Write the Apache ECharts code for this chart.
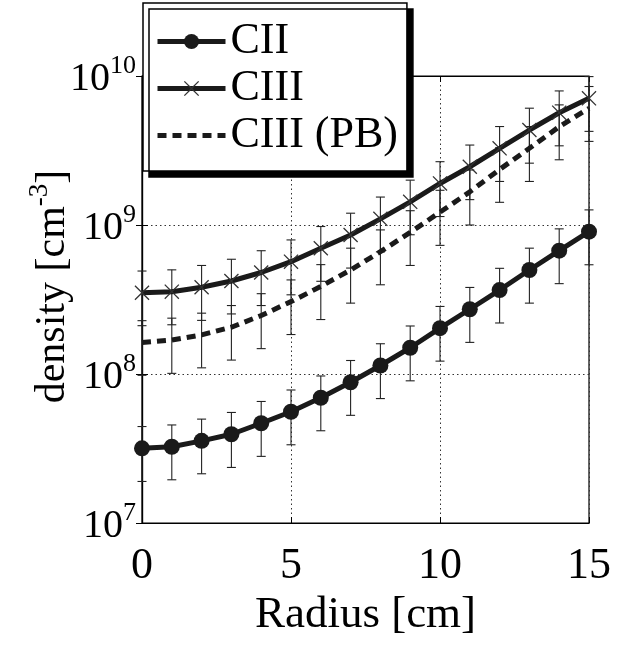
<!DOCTYPE html>
<html>
<head>
<meta charset="utf-8">
<script src="https://cdn.jsdelivr.net/npm/echarts@6/dist/echarts.min.js"></script>
<style>
html,body{margin:0;padding:0;background:#fff;}
#chart{width:632px;height:645px;}
</style>
</head>
<body>
<div id="chart"></div>
<script>
// Radius [cm]
var radius = [0,1,2,3,4,5,6,7,8,9,10,11,12,13,14,15];
// densities [cm^-3]
var cII   = [3.17e7,3.25e7,3.56e7,3.94e7,4.67e7,5.58e7,6.93e7,8.8e7,1.14e8,1.50e8,2.03e8,2.72e8,3.66e8,4.99e8,6.73e8,9.02e8];
var cIII  = [3.51e8,3.57e8,3.82e8,4.21e8,4.80e8,5.67e8,6.98e8,8.57e8,1.10e9,1.43e9,1.90e9,2.46e9,3.27e9,4.34e9,5.67e9,7.08e9];
var cIIIpb= [1.63e8,1.69e8,1.83e8,2.06e8,2.47e8,3.06e8,3.87e8,4.99e8,6.62e8,8.91e8,1.22e9,1.67e9,2.36e9,3.27e9,4.57e9,6.07e9];
// error bar half-widths
var errII   = [1.27e7,1.3e7,1.42e7,1.58e7,1.87e7,2.23e7,2.77e7,3.52e7,4.56e7,6.0e7,8.1e7,1.09e8,1.46e8,2.0e8,2.69e8,3.61e8];
var errIII  = [1.4e8,1.43e8,1.53e8,1.68e8,1.92e8,2.27e8,2.79e8,3.43e8,4.4e8,5.7e8,7.6e8,9.8e8,1.31e9,1.74e9,2.27e9,2.83e9];
var errIIIpb= [6.5e7,6.8e7,7.3e7,8.2e7,9.9e7,1.22e8,1.55e8,2.0e8,2.65e8,3.56e8,4.9e8,6.7e8,9.4e8,1.31e9,1.83e9,2.43e9];
var seriesNames = ['CII','CIII','CIII (PB)'];
var xTicks = [0,5,10,15];
var yExps = [7,8,9,10];

var FONT = 'Liberation Serif';
var xSym = 'path://M0,6L6,0L50,44L94,0L100,6L56,50L100,94L94,100L50,56L6,100L0,94L44,50Z';

function pairs(v){ return radius.map(function(r,i){ return [r, v[i]]; }); }
function errData(v,e){ return radius.map(function(r,i){ return [r, v[i]-e[i], v[i]+e[i]]; }); }

function errSeries(v,e){
  return {
    type:'custom', xAxisIndex:0, yAxisIndex:0, z:1, silent:true,
    data: errData(v,e),
    encode:{x:0, y:[1,2]},
    renderItem:function(params, api){
      var x = api.value(0);
      var lo = api.coord([x, api.value(1)]);
      var hi = api.coord([x, api.value(2)]);
      var hw = 4.5;
      var st = {stroke:'#222', lineWidth:1.1};
      return {type:'group', children:[
        {type:'line', shape:{x1:lo[0],y1:lo[1],x2:hi[0],y2:hi[1]}, style:st},
        {type:'line', shape:{x1:lo[0]-hw,y1:lo[1],x2:lo[0]+hw,y2:lo[1]}, style:st},
        {type:'line', shape:{x1:hi[0]-hw,y1:hi[1],x2:hi[0]+hw,y2:hi[1]}, style:st}
      ]};
    }
  };
}

var chart = echarts.init(document.getElementById('chart'), null, {renderer:'canvas'});
var axisCommon = {
  axisLine:{show:true, lineStyle:{color:'#000', width:1.2}},
  axisTick:{show:true, inside:true, length:6, lineStyle:{color:'#000', width:1}}
};
chart.setOption({
  animation:false,
  backgroundColor:'#fff',
  grid:{left:142, right:43, top:76, bottom:122, show:true, borderColor:'#000', borderWidth:1.2, backgroundColor:'transparent'},
  legend:{
    orient:'vertical', left:143, top:3,
    padding:[15,9,12,12],
    itemGap:0, itemWidth:68, itemHeight:19,
    backgroundColor:'#fff', borderColor:'#000', borderWidth:1.5,
    shadowColor:'#000', shadowBlur:0, shadowOffsetX:6, shadowOffsetY:6,
    textStyle:{fontFamily:FONT, fontSize:44, color:'#000', lineHeight:47},
    lineStyle:{width:5},
    data:[
      {name:'CII'},
      {name:'CIII'},
      {name:'CIII (PB)', itemStyle:{opacity:0}}
    ]
  },
  xAxis:[
    Object.assign({type:'value', min:0, max:15, interval:5, position:'bottom',
      axisLabel:{fontFamily:FONT, fontSize:44, color:'#000', margin:21,
        formatter:function(v){ return xTicks.indexOf(v)>=0 ? String(v) : ''; }},
      splitLine:{show:true, lineStyle:{color:'#333', width:1, type:[1.5,3]}},
      name:'Radius [cm]', nameLocation:'middle', nameGap:68,
      nameTextStyle:{fontFamily:FONT, fontSize:45, color:'#000'}
    }, axisCommon),
    Object.assign({type:'value', min:0, max:15, interval:5, position:'top',
      axisLabel:{show:false}, splitLine:{show:false}}, axisCommon)
  ],
  yAxis:[
    Object.assign({type:'log', logBase:10, min:1e7, max:1e10, splitNumber:3, position:'left',
      axisLabel:{margin:6, color:'#000',
        formatter:function(v){
          var e = Math.round(Math.log(v)/Math.LN10);
          if (yExps.indexOf(e) < 0) return '';
          return '{b|10}{s|' + e + '}';
        },
        rich:{
          b:{fontFamily:FONT, fontSize:40, color:'#000', lineHeight:46, verticalAlign:'bottom'},
          s:{fontFamily:FONT, fontSize:26, color:'#000', lineHeight:22, verticalAlign:'top'}
        }
      },
      splitLine:{show:true, lineStyle:{color:'#333', width:1, type:[1.5,3]}},
      minorTick:{show:false},
      name:'{a|density [cm}{s|-3}{a|]}', nameLocation:'middle', nameGap:68,
      nameMoveOverlap:false,
      nameTextStyle:{
        padding:[0,0,0,26],
        rich:{
          a:{fontFamily:FONT, fontSize:42, color:'#000', lineHeight:48, verticalAlign:'bottom'},
          s:{fontFamily:FONT, fontSize:27, color:'#000', lineHeight:24, verticalAlign:'top'}
        }
      }
    }, axisCommon),
    Object.assign({type:'log', logBase:10, min:1e7, max:1e10, splitNumber:3, position:'right',
      axisLabel:{show:false}, splitLine:{show:false}}, axisCommon)
  ],
  series:[
    errSeries(cII, errII),
    errSeries(cIII, errIII),
    errSeries(cIIIpb, errIIIpb),
    {name:'CII', type:'line', data:pairs(cII), z:3,
      symbol:'circle', symbolSize:16, showAllSymbol:true,
      lineStyle:{color:'#1a1a1a', width:5},
      itemStyle:{color:'#1a1a1a', borderWidth:0}},
    {name:'CIII', type:'line', data:pairs(cIII), z:3,
      symbol:xSym, symbolSize:15, showAllSymbol:true,
      lineStyle:{color:'#1a1a1a', width:5},
      itemStyle:{color:'#333', borderWidth:0}},
    {name:'CIII (PB)', type:'line', data:pairs(cIIIpb), z:3,
      symbol:'none',
      lineStyle:{color:'#1a1a1a', width:5, type:[9,6]},
      itemStyle:{color:'#1a1a1a'}}
  ]
});
</script>
</body>
</html>
